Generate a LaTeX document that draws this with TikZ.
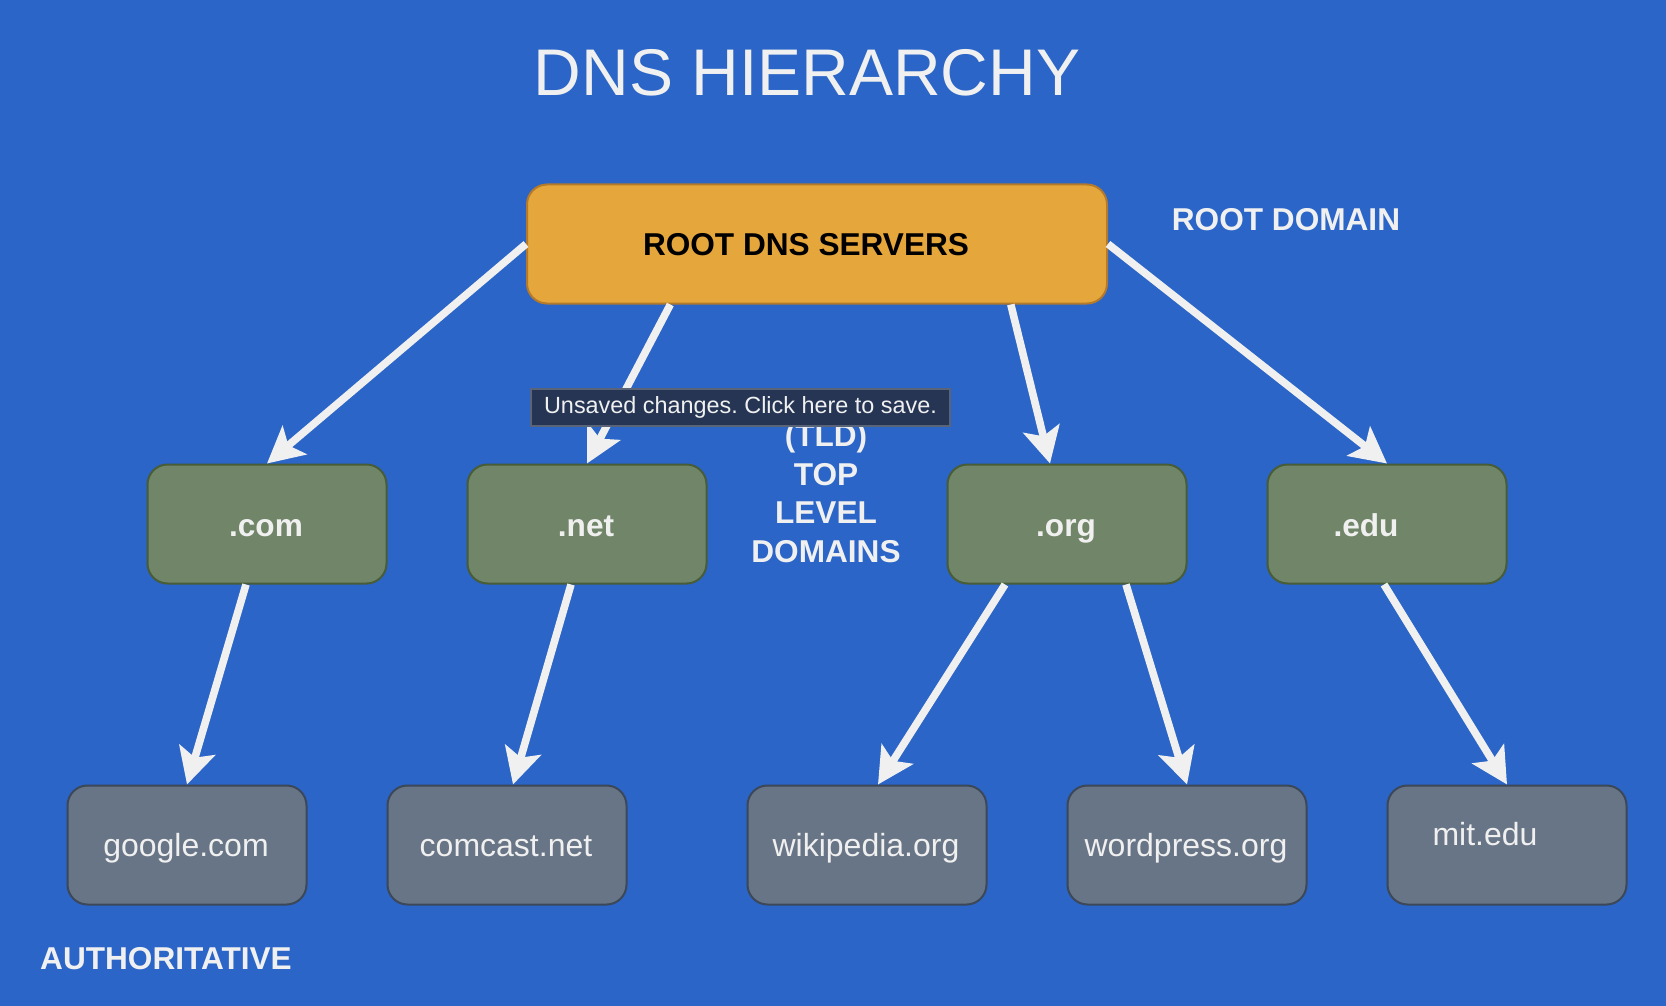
\documentclass[tikz,border=0pt]{standalone}
\usepackage{fontspec}
\setmainfont{Liberation Sans}
\usetikzlibrary{arrows.meta,calc}
\definecolor{bg}{RGB}{42,101,199}
\definecolor{rootfill}{RGB}{229,166,59}
\definecolor{rootdraw}{RGB}{180,122,42}
\definecolor{tldfill}{RGB}{113,134,104}
\definecolor{tlddraw}{RGB}{72,92,56}
\definecolor{authfill}{RGB}{104,117,134}
\definecolor{authdraw}{RGB}{60,72,88}
\definecolor{wht}{RGB}{240,240,240}
\definecolor{tipfill}{RGB}{37,53,83}
\definecolor{tipdraw}{RGB}{90,100,120}
\begin{document}
\frenchspacing
\begin{tikzpicture}[x=0.5pt,y=-0.5pt,
  box/.style={rounded corners=10pt,line width=1pt,minimum height=59.5pt,inner sep=0pt},
  rootbox/.style={box,fill=rootfill,draw=rootdraw,minimum width=290pt},
  tldbox/.style={box,fill=tldfill,draw=tlddraw,minimum width=119.5pt},
  authbox/.style={box,fill=authfill,draw=authdraw,minimum width=119.5pt},
  boldtxt/.style={font=\fontsize{15.8}{19}\selectfont\bfseries,text=wht,inner sep=0pt,anchor=base},
  plaintxt/.style={font=\fontsize{16}{19}\selectfont,text=wht,inner sep=0pt,anchor=base},
  conn/.style={draw=wht,line width=3.8pt,-{Stealth[length=18pt,width=18.5pt,inset=4pt]}}
]
\fill[bg] (0,0) rectangle (1666,1006);
\useasboundingbox (0,0) rectangle (1666,1006);

\node[text=wht,font=\fontsize{33}{40}\selectfont,inner sep=0pt] (title) at (807,73) {DNS HIERARCHY};

\node[rootbox] (root) at (817,244) {};
\node[boldtxt,text=black] (roottxt) at ($(root.center)+(-11,12)$) {ROOT DNS SERVERS};

\node[tldbox] (com) at (267,524) {};
\node[tldbox] (net) at (587,524) {};
\node[tldbox] (org) at (1067,524) {};
\node[tldbox] (edu) at (1387,524) {};
\node[boldtxt] (comtxt) at ($(com.center)+(-1,12)$) {.com};
\node[boldtxt] (nettxt) at ($(net.center)+(-1,12)$) {.net};
\node[boldtxt] (orgtxt) at ($(org.center)+(-1,12)$) {.org};
\node[boldtxt] (edutxt) at ($(edu.center)+(-21,12)$) {.edu};

\node[authbox] (google) at (187,845) {};
\node[authbox] (comcast) at (507,845) {};
\node[authbox] (wiki) at (867,845) {};
\node[authbox] (wordpress) at (1187,845) {};
\node[authbox] (mit) at (1507,845) {};
\node[plaintxt] (googletxt) at ($(google.center)+(-1,11)$) {google.com};
\node[plaintxt] (comcasttxt) at ($(comcast.center)+(-1,11)$) {comcast.net};
\node[plaintxt] (wikitxt) at ($(wiki.center)+(-1,11)$) {wikipedia.org};
\node[plaintxt] (wordpresstxt) at ($(wordpress.center)+(-1,11)$) {wordpress.org};
\node[plaintxt] (mittxt) at ($(mit.center)+(-22,0)$) {mit.edu};

\node[boldtxt,anchor=center] (rootdomain) at (1286,220) {ROOT DOMAIN};
\node[boldtxt,anchor=center] (auth) at (166,959) {AUTHORITATIVE};
\node[boldtxt,anchor=center,align=center,font=\fontsize{15.8}{19.25}\selectfont\bfseries] (tld) at (826,493) {(TLD)\\TOP\\LEVEL\\DOMAINS};

\draw[conn] (root.west) -- (com.north);
\draw[conn] ($(root.south west)!0.248!(root.south east)$) -- (net.north);
\draw[conn] ($(root.south west)!0.833!(root.south east)$) -- ($(org.north)+(-17,0)$);
\draw[conn] (root.east) -- (edu.north);
\draw[conn] ($(com.south)+(-21,0)$) -- (google.north);
\draw[conn] ($(net.south)+(-16,0)$) -- ($(comcast.north)+(6,0)$);
\draw[conn] ($(org.south)+(-62,0)$) -- ($(wiki.north)+(11,0)$);
\draw[conn] ($(org.south)+(59,0)$) -- (wordpress.north);
\draw[conn] ($(edu.south)+(-3,0)$) -- (mit.north);

\node[fill=tipfill,draw=tipdraw,line width=0.8pt,minimum width=209.5pt,minimum height=18.5pt,inner sep=0pt,
  text=wht,font=\fontsize{11.7}{13}\selectfont] (tip) at (740.5,407.5) {Unsaved changes. Click here to save.};
\end{tikzpicture}
\end{document}
